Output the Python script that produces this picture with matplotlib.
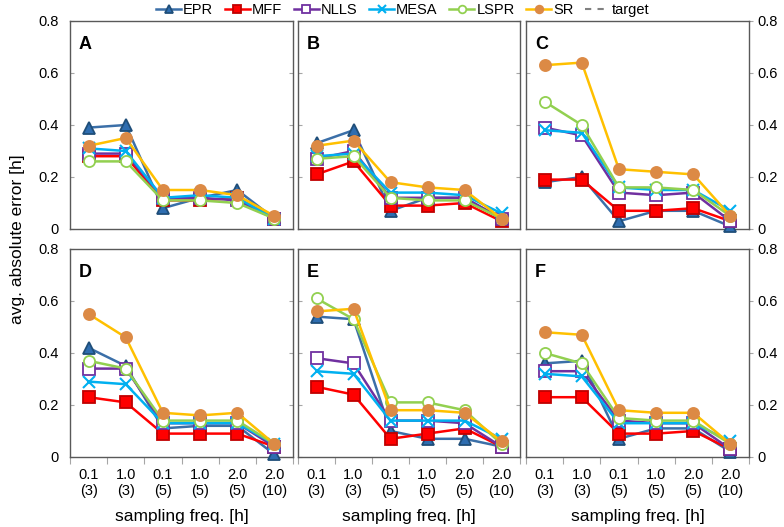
import matplotlib
matplotlib.use("Agg")
import matplotlib.pyplot as plt
from matplotlib.lines import Line2D
import numpy as np

categories = ["0.1\n(3)", "1.0\n(3)", "0.1\n(5)", "1.0\n(5)", "2.0\n(5)", "2.0\n(10)"]
panels = ["A", "B", "C", "D", "E", "F"]
methods = ["EPR", "MFF", "NLLS", "MESA", "LSPR", "SR"]

EPR = {
    "A": [0.39, 0.40, 0.08, 0.12, 0.15, 0.04],
    "B": [0.33, 0.38, 0.07, 0.12, 0.12, 0.04],
    "C": [0.18, 0.20, 0.03, 0.07, 0.07, 0.01],
    "D": [0.42, 0.35, 0.11, 0.12, 0.12, 0.01],
    "E": [0.54, 0.53, 0.10, 0.07, 0.07, 0.04],
    "F": [0.36, 0.37, 0.07, 0.11, 0.11, 0.02],
}
MFF = {
    "A": [0.28, 0.28, 0.11, 0.11, 0.12, 0.04],
    "B": [0.21, 0.26, 0.09, 0.09, 0.10, 0.03],
    "C": [0.19, 0.19, 0.07, 0.07, 0.08, 0.03],
    "D": [0.23, 0.21, 0.09, 0.09, 0.09, 0.04],
    "E": [0.27, 0.24, 0.07, 0.09, 0.11, 0.04],
    "F": [0.23, 0.23, 0.09, 0.09, 0.10, 0.03],
}
NLLS = {
    "A": [0.29, 0.29, 0.12, 0.12, 0.11, 0.04],
    "B": [0.27, 0.30, 0.12, 0.12, 0.12, 0.04],
    "C": [0.39, 0.36, 0.14, 0.13, 0.14, 0.03],
    "D": [0.34, 0.34, 0.13, 0.13, 0.13, 0.04],
    "E": [0.38, 0.36, 0.14, 0.14, 0.13, 0.04],
    "F": [0.33, 0.33, 0.14, 0.13, 0.13, 0.03],
}
MESA = {
    "A": [0.31, 0.30, 0.12, 0.13, 0.12, 0.04],
    "B": [0.28, 0.29, 0.14, 0.14, 0.13, 0.06],
    "C": [0.38, 0.37, 0.16, 0.15, 0.15, 0.07],
    "D": [0.29, 0.28, 0.13, 0.13, 0.13, 0.05],
    "E": [0.33, 0.32, 0.14, 0.14, 0.14, 0.07],
    "F": [0.32, 0.31, 0.13, 0.13, 0.13, 0.06],
}
LSPR = {
    "A": [0.26, 0.26, 0.11, 0.11, 0.10, 0.04],
    "B": [0.27, 0.28, 0.12, 0.11, 0.11, 0.04],
    "C": [0.49, 0.40, 0.16, 0.16, 0.15, 0.05],
    "D": [0.37, 0.34, 0.14, 0.14, 0.14, 0.05],
    "E": [0.61, 0.53, 0.21, 0.21, 0.18, 0.05],
    "F": [0.40, 0.36, 0.15, 0.14, 0.14, 0.05],
}
SR = {
    "A": [0.32, 0.35, 0.15, 0.15, 0.13, 0.05],
    "B": [0.32, 0.34, 0.18, 0.16, 0.15, 0.04],
    "C": [0.63, 0.64, 0.23, 0.22, 0.21, 0.05],
    "D": [0.55, 0.46, 0.17, 0.16, 0.17, 0.05],
    "E": [0.56, 0.57, 0.18, 0.18, 0.17, 0.06],
    "F": [0.48, 0.47, 0.18, 0.17, 0.17, 0.05],
}
data = {"EPR": EPR, "MFF": MFF, "NLLS": NLLS, "MESA": MESA, "LSPR": LSPR, "SR": SR}

styles = {
    "EPR":  dict(color="#3B6FA8", marker="^", mfc="#2E6DB0", mec="#1F4E79", ms=8),
    "MFF":  dict(color="#FF0000", marker="s", mfc="#FF0000", mec="#C00000", ms=8),
    "NLLS": dict(color="#7030A0", marker="s", mfc="white", mec="#7030A0", ms=8),
    "MESA": dict(color="#00B0F0", marker="x", mfc="#00B0F0", mec="#00B0F0", ms=8, mew=1.5),
    "LSPR": dict(color="#92D050", marker="o", mfc="white", mec="#92D050", ms=8),
    "SR":   dict(color="#FFC000", marker="o", mfc="#DC8A45", mec="#DC8A45", ms=8),
}

narrow = ["Liberation Sans Narrow", "Liberation Sans", "DejaVu Sans"]
plt.rcParams["font.family"] = ["Liberation Sans", "DejaVu Sans"]

fig = plt.figure(figsize=(7.84, 5.27), dpi=100)
W, H = 784, 527
lefts = [70, 298, 526]
widths = [223, 222, 223]
tops = [21, 249]
ph = 208

x = np.arange(len(categories))
spine_col = "#595959"
tick_col = "#A6A6A6"

for i, p in enumerate(panels):
    r, c = divmod(i, 3)
    ax = fig.add_axes([lefts[c] / W, 1 - (tops[r] + ph) / H, widths[c] / W, ph / H])
    for m in methods:
        st = dict(styles[m])
        mew = st.pop("mew", 1.3)
        ax.plot(x, data[m][p], lw=1.8, mew=mew, label=m, zorder=3, clip_on=False, **st)
    ax.set_xlim(-0.5, 5.5)
    ax.set_ylim(0, 0.8)
    for s in ax.spines.values():
        s.set_color(spine_col)
        s.set_linewidth(1.0)
    ax.set_yticks([0, 0.2, 0.4, 0.6, 0.8])
    ax.set_yticklabels(["0", "0.2", "0.4", "0.6", "0.8"])
    ax.tick_params(axis="y", which="both", direction="in", length=3, color=tick_col,
                   left=True, right=True, labelleft=False, labelright=False, labelsize=10.5)
    if c == 0:
        ax.tick_params(axis="y", labelleft=True, pad=8)
    if c == 2:
        ax.tick_params(axis="y", right=True, labelright=True, pad=6)
        for t in ax.yaxis.get_major_ticks():
            t.tick2line.set_marker(matplotlib.markers.TICKRIGHT)
    ax.set_xticks(np.arange(-0.5, 6.0, 1.0), minor=False)
    ax.set_xticklabels([])
    ax.set_xticks(x, minor=True)
    if r == 1:
        ax.set_xticklabels(categories, minor=True, family=narrow, fontsize=10.5)
        ax.tick_params(axis="x", which="major", direction="out", length=5, color=tick_col)
        ax.tick_params(axis="x", which="minor", length=0, pad=8)
        ax.set_xlabel("sampling freq. [h]", family=narrow, fontsize=12.5, labelpad=8)
    else:
        ax.tick_params(axis="x", which="both", length=0)
        ax.set_xticklabels([], minor=True)
    ax.text(0.04, 0.93, p, transform=ax.transAxes, fontsize=13, fontweight="bold",
            va="top", ha="left", family=["Liberation Sans", "DejaVu Sans"])

fig.text(18 / W, 1 - 239 / H, "avg. absolute error [h]", rotation=90, va="center",
         ha="center", fontsize=12.5, family=narrow)

handles = []
for m in methods:
    st = dict(styles[m])
    mew = st.pop("mew", 1.3)
    st["ms"] = 5.5
    handles.append(Line2D([], [], lw=1.8, mew=mew, **st))
handles.append(Line2D([], [], color="#808080", lw=1.5, ls=(0, (3, 3))))
labels = methods + ["target"]
fig.legend(handles, labels, loc="center", bbox_to_anchor=(403 / W, 1 - 10 / H), ncol=7,
           frameon=False, handlelength=1.7, handletextpad=0.15, columnspacing=0.8,
           prop={"family": narrow, "size": 10.5})

fig.savefig("out.png", dpi=100)
